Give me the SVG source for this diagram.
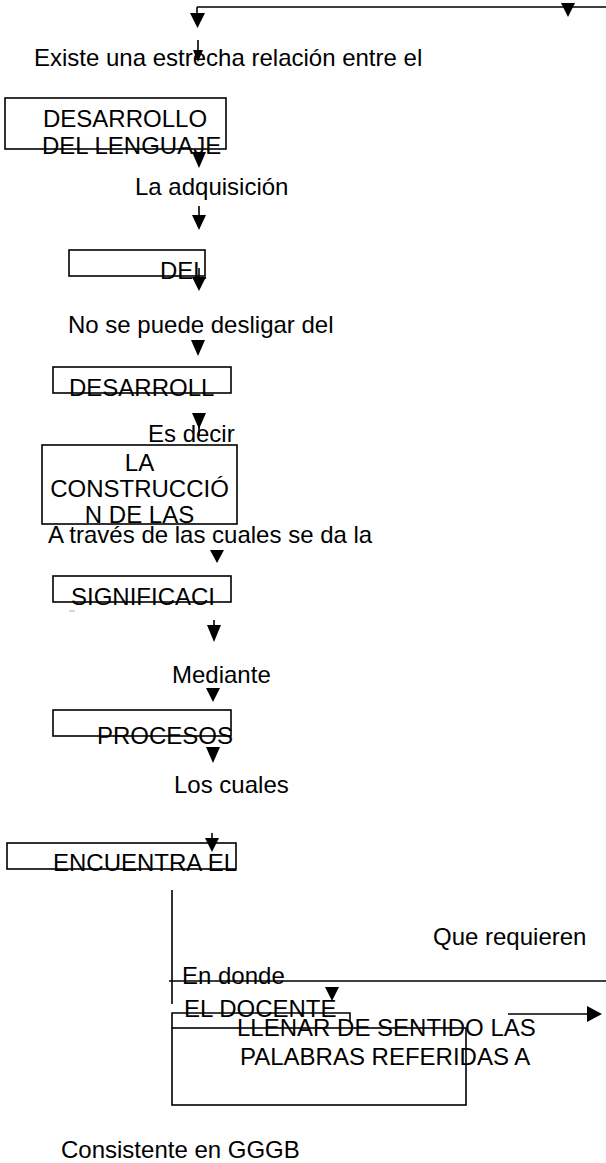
<svg xmlns="http://www.w3.org/2000/svg" width="606" height="1163" viewBox="0 0 606 1163">
<style>
text{font-family:"Liberation Sans",Arial,sans-serif;font-size:24px;fill:#000}
.b{fill:none;stroke:#000;stroke-width:1.6}
.l{fill:none;stroke:#000;stroke-width:1.6}
.t{fill:#000;stroke:none}
</style>
<rect width="606" height="1163" fill="#fff"/>
<g id="connectors">
<path class="l" d="M197 7H606M197 7V14"/>
<path class="t" d="M190 13H205L197.5 28Z"/>
<path class="t" d="M561 3H575L568 17Z"/>
<path class="l" d="M198 40V53"/>
<path class="t" d="M193 50H203L198 62Z"/>
<path class="t" d="M192 152H206L199 168Z"/>
<path class="l" d="M199 206V216"/>
<path class="t" d="M192 215H206L199 230Z"/>
<path class="l" d="M199 268V279"/>
<path class="t" d="M192 277H206L199 291Z"/>
<path class="t" d="M191 340H205L198 356Z"/>
<path class="l" d="M199 413V436"/>
<path class="t" d="M192 413H206L199 429Z"/>
<path class="t" d="M210 550H224L217 563Z"/>
<path class="l" d="M214 620V626"/>
<path class="t" d="M207 625H221L214 642Z"/>
<path class="t" d="M206 688H220L213 702Z"/>
<path class="t" d="M206 747H220L213 763Z"/>
<path class="l" d="M212 833V840"/>
<path class="t" d="M205 838H219L212 852Z"/>
<path class="l" d="M172 890V1004"/>
<path class="l" d="M169 981H606"/>
<path class="t" d="M325 987H339L332 1001Z"/>
<path class="l" d="M508 1014H588"/>
<path class="t" d="M587 1006L602 1014L587 1022Z"/>
<path stroke="#aaa" stroke-width="1" d="M69 611H75"/>
</g>
<g id="n-existe"><text x="34" y="66">Existe una estrecha relación entre el</text></g>
<g id="n-desarrollo-lenguaje">
<rect class="b" x="5" y="98" width="221" height="51"/>
<text x="43" y="127">DESARROLLO</text>
<text x="42" y="154">DEL LENGUAJE</text>
</g>
<g id="n-adquisicion"><text x="135" y="195">La adquisición</text></g>
<g id="n-del">
<rect class="b" x="69" y="250" width="136" height="26"/>
<text x="160" y="279">DEL</text>
</g>
<g id="n-desligar"><text x="68" y="333">No se puede desligar del</text></g>
<g id="n-desarroll">
<rect class="b" x="53" y="367" width="178" height="26"/>
<text x="69" y="396">DESARROLL</text>
</g>
<g id="n-esdecir"><text x="148" y="442">Es decir</text></g>
<g id="n-construccion">
<rect class="b" x="42" y="445" width="195" height="79"/>
<text x="139.5" y="471" text-anchor="middle">LA</text>
<text x="139.5" y="497" text-anchor="middle">CONSTRUCCIÓ</text>
<text x="139.5" y="523" text-anchor="middle">N DE LAS</text>
</g>
<g id="n-atraves"><text x="48" y="543">A través de las cuales se da la</text></g>
<g id="n-significaci">
<rect class="b" x="53" y="576" width="178" height="26"/>
<text x="71" y="605">SIGNIFICACI</text>
</g>
<g id="n-mediante"><text x="172" y="683">Mediante</text></g>
<g id="n-procesos">
<rect class="b" x="53" y="710" width="178" height="26"/>
<text x="97" y="744">PROCESOS</text>
</g>
<g id="n-loscuales"><text x="174" y="793">Los cuales</text></g>
<g id="n-encuentra">
<rect class="b" x="7" y="843" width="229" height="26"/>
<text x="53" y="871">ENCUENTRA EL</text>
</g>
<g id="n-querequieren"><text x="433" y="945">Que requieren</text></g>
<g id="n-endonde"><text x="182" y="984">En donde</text></g>
<g id="n-docente">
<path class="b" d="M172 1028V1013H350V1022"/>
<text x="184" y="1017">EL DOCENTE</text>
</g>
<g id="n-llenar">
<rect class="b" x="172" y="1028" width="294" height="77"/>
<text x="237" y="1036">LLENAR DE SENTIDO LAS</text>
<text x="240" y="1065">PALABRAS REFERIDAS A</text>
</g>
<g id="n-consistente"><text x="61" y="1158">Consistente en GGGB</text></g>
</svg>
